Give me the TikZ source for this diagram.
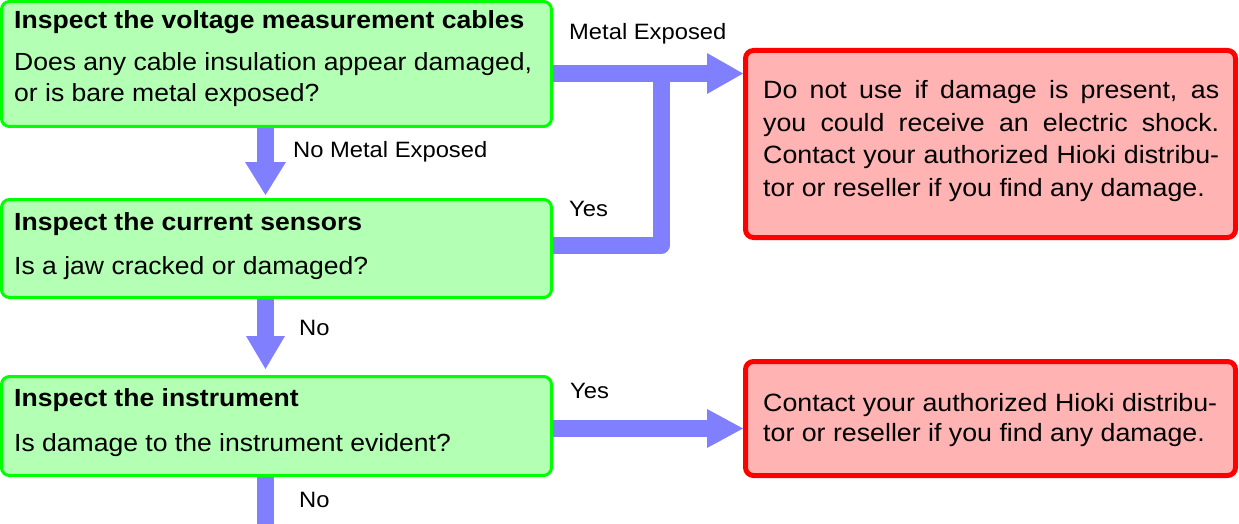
\documentclass[tikz,border=0pt]{standalone}
\usepackage{fontspec}
\setmainfont[FakeStretch=1.07]{Liberation Sans}
\usetikzlibrary{calc}
\definecolor{gfill}{RGB}{179,255,179}
\definecolor{gline}{RGB}{0,255,0}
\definecolor{rfill}{RGB}{255,179,179}
\definecolor{rline}{RGB}{255,0,0}
\definecolor{flowc}{RGB}{128,128,255}
\tikzset{
 gbox/.style={draw=gline, fill=gfill, line width=3pt, rounded corners=8pt, inner sep=0pt, anchor=north west},
 rbox/.style={draw=rline, fill=rfill, line width=5pt, rounded corners=8pt, inner sep=0pt, anchor=north west},
 shaft/.style={draw=flowc, line width=17pt},
 head/.style={fill=flowc},
 ttl/.style={anchor=base west, inner sep=0pt, font=\fontsize{24.8pt}{31pt}\selectfont\bfseries},
 body/.style={anchor=base west, inner sep=0pt, font=\fontsize{24.8pt}{31pt}\selectfont},
 lbl/.style={anchor=base west, inner sep=0pt, font=\fontsize{22.2pt}{26pt}\selectfont},
 rtxt/.style={anchor=base west, inner sep=0pt, font=\fontsize{25pt}{30pt}\selectfont},
}
\begin{document}
\begin{tikzpicture}[x=1pt,y=-1pt]
\useasboundingbox (0,0) rectangle (1239,524);
% boxes
\node[gbox, minimum width=550pt, minimum height=125pt] (b1) at (0,0) {};
\node[gbox, minimum width=550pt, minimum height=98pt] (b2) at (0,198) {};
\node[gbox, minimum width=550pt, minimum height=99pt] (b3) at (0,375) {};
\node[rbox, minimum width=490pt, minimum height=187pt] (r1) at (743,48) {};
\node[rbox, minimum width=490pt, minimum height=114pt] (r2) at (743,359) {};
% helper coordinates
\coordinate (xa) at (265.5,0);
\coordinate (xv) at (661.5,0);
\coordinate (ya) at (0,73.5);
\coordinate (yb) at (0,428.5);
\coordinate (yy) at (0,245);
\coordinate (bot) at (265.5,524);
% down arrow 1
\draw[shaft] (b1.south -| xa) -- ($(b2.north -| xa)+(0,-36)$);
\fill[head] ($(b2.north -| xa)+(-20.5,-36)$) -- ($(b2.north -| xa)+(0,-3)$) -- ($(b2.north -| xa)+(20.5,-36)$) -- cycle;
% down arrow 2
\draw[shaft] (b2.south -| xa) -- ($(b3.north -| xa)+(0,-39)$);
\fill[head] ($(b3.north -| xa)+(-19.5,-39)$) -- ($(b3.north -| xa)+(0,-6)$) -- ($(b3.north -| xa)+(19.5,-39)$) -- cycle;
% down arrow 3 (continues off the picture)
\draw[shaft] (b3.south -| xa) -- (bot);
% yes connector from b2
\draw[shaft, line join=round] (b2.east |- yy) -| (xv |- ya);
% right arrow 1
\draw[shaft] (b1.east |- ya) -- ($(r1.west |- ya)+(-36,0)$);
\fill[head] ($(r1.west |- ya)+(-36,-20.5)$) -- (r1.west |- ya) -- ($(r1.west |- ya)+(-36,20.5)$) -- cycle;
% right arrow 2
\draw[shaft] (b3.east |- yb) -- ($(r2.west |- yb)+(-36,0)$);
\fill[head] ($(r2.west |- yb)+(-36,-19.5)$) -- (r2.west |- yb) -- ($(r2.west |- yb)+(-36,19.5)$) -- cycle;
% box texts
\node[ttl] (t1) at (14,29) {Inspect the voltage measurement cables};
\node[body] (t1a) at (14,70.7) {Does any cable insulation appear damaged,};
\node[body] (t1b) at (14,101.7) {or is bare metal exposed?};
\node[ttl] (t2) at (14,230.7) {Inspect the current sensors};
\node[body] (t2a) at (14,274) {Is a jaw cracked or damaged?};
\node[ttl] (t3) at (14,406.7) {Inspect the instrument};
\node[body] (t3a) at (14,451.7) {Is damage to the instrument evident?};
% red texts
\node[rtxt] (r1a) at (763,99) {\makebox[456pt][s]{Do not use if damage is present, as}};
\node[rtxt] (r1b) at (763,131.5) {\makebox[456pt][s]{you could receive an electric shock.}};
\node[rtxt] (r1c) at (763,164) {\makebox[456pt][s]{Contact your authorized Hioki distribu-}};
\node[rtxt] (r1d) at (763,196.5) {tor or reseller if you find any damage.};
\node[rtxt] (r2a) at (763,411.7) {\makebox[454pt][s]{Contact your authorized Hioki distribu-}};
\node[rtxt] (r2b) at (763,441.7) {tor or reseller if you find any damage.};
% labels
\node[lbl] (l1) at (569,40) {Metal Exposed};
\node[lbl] (l2) at (293,157.7) {No Metal Exposed};
\node[lbl] (l3) at (569,216.7) {Yes};
\node[lbl] (l4) at (299,335) {No};
\node[lbl] (l5) at (570,398) {Yes};
\node[lbl] (l6) at (299,507) {No};
\end{tikzpicture}
\end{document}
